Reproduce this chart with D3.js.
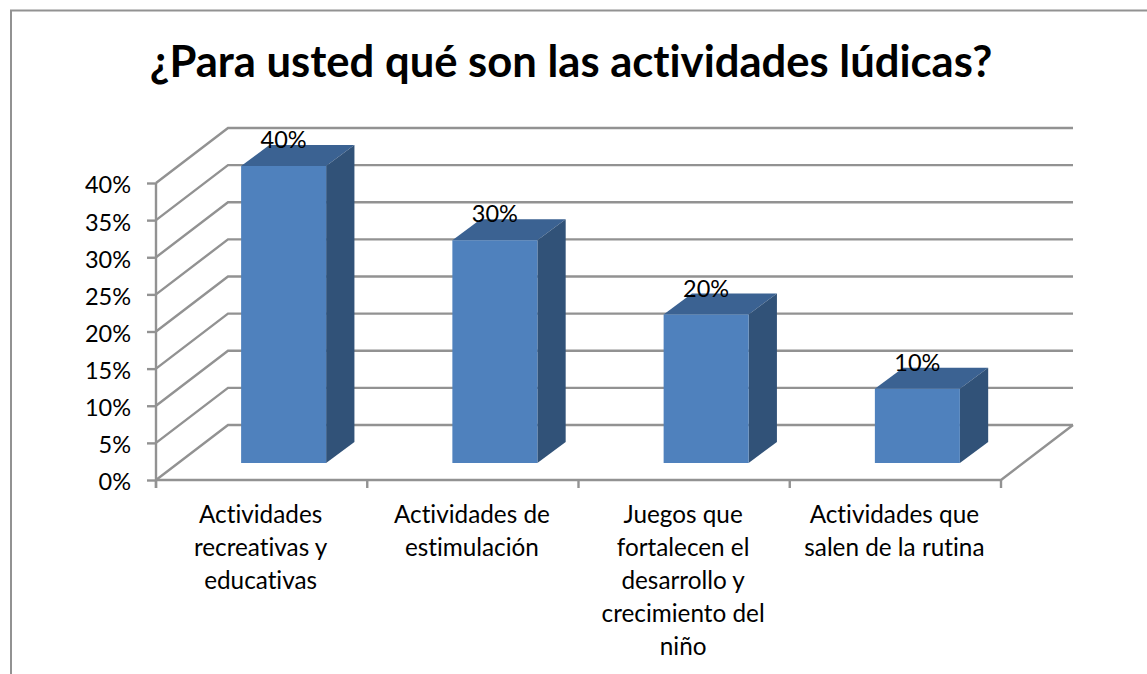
<!DOCTYPE html>
<html><head><meta charset="utf-8">
<style>
html,body{margin:0;padding:0;background:#fff}
svg{display:block}
text{font-family:Lato,"Open Sans",sans-serif;fill:#000;font-variant-ligatures:none}
</style>
<script src="https://cdnjs.cloudflare.com/ajax/libs/d3/7.8.5/d3.min.js"></script>
</head><body>
<svg id="c" width="1147" height="674"></svg>
<script>
const chartTitle = "¿Para usted qué son las actividades lúdicas?";
const categories = ["Actividades recreativas y educativas","Actividades de estimulación","Juegos que fortalecen el desarrollo y crecimiento del niño","Actividades que salen de la rutina"];
const categoryLines = [
  ["Actividades","recreativas y","educativas"],
  ["Actividades de","estimulación"],
  ["Juegos que","fortalecen el","desarrollo y","crecimiento del","niño"],
  ["Actividades que","salen de la rutina"]
];
const values = [40,30,20,10];
const yTicks = [0,5,10,15,20,25,30,35,40];

const svg = d3.select("#c");
const gridColor = "#929292";
const gridWidth = 2.4;
const depthX = 72, depthY = 55;          // floor depth
const barDepthX = 28.3, barDepthY = 21;  // bar depth
const barShiftX = 22, barShiftY = 17;    // bar placement on the floor

const y = d3.scaleLinear().domain([0,40]).range([480,183]);
const x = d3.scaleBand().domain(categories).range([156,1001]).paddingInner(0.5976).paddingOuter(0.2988);
const xStep = x.step();
const x0 = 156, x1 = 1001;

// frame
svg.append("path").attr("d","M11,674V10.5H1147").attr("fill","none").attr("stroke",gridColor).attr("stroke-width",2);

// title
svg.append("text").attr("x",571).attr("y",77).attr("text-anchor","middle")
  .attr("font-size",43.6).attr("font-weight",700).text(chartTitle);

// gridlines
const grid = svg.append("g").attr("fill","none").attr("stroke",gridColor).attr("stroke-width",gridWidth);
grid.selectAll("path").data(yTicks).join("path")
  .attr("d",d=>`M${x0},${y(d)}L${x0+depthX},${y(d)-depthY}H${x1+depthX}`);
grid.append("path").attr("d",`M${x0},${y(0)}H${x1}L${x1+depthX},${y(0)-depthY}`);

// y axis
const yAxis = svg.append("g").attr("transform",`translate(${x0},0)`)
  .call(d3.axisLeft(y).tickValues(yTicks).tickFormat(d=>d+"%").tickSize(9).tickPadding(16));
yAxis.select(".domain").attr("stroke",gridColor).attr("stroke-width",gridWidth).attr("d",`M0,${y(40)}V${y(0)+8}`);
yAxis.selectAll(".tick line").attr("stroke",gridColor).attr("stroke-width",gridWidth);
yAxis.selectAll(".tick text").attr("font-size",23.5).attr("dy","0.42em").attr("font-family",'Lato,"Open Sans",sans-serif').attr("fill","#000");

// x ticks
const edges = d3.range(categories.length+1).map(i=>x0+i*xStep);
svg.append("g").attr("stroke",gridColor).attr("stroke-width",gridWidth)
  .selectAll("line").data(edges).join("line")
  .attr("x1",d=>d).attr("x2",d=>d).attr("y1",y(0)).attr("y2",y(0)+8);

// bars
const bars = svg.append("g").selectAll("g").data(values).join("g");
const bx = (i)=>x(categories[i])+barShiftX;
const bw = x.bandwidth();
const by0 = y(0)-barShiftY;
bars.append("path").attr("fill","#3b6292")
  .attr("d",(d,i)=>{const t=y(d)-barShiftY,l=bx(i);return `M${l},${t}l${barDepthX},${-barDepthY}h${bw}l${-barDepthX},${barDepthY}Z`;});
bars.append("path").attr("fill","#315278")
  .attr("d",(d,i)=>{const t=y(d)-barShiftY,r=bx(i)+bw;return `M${r},${t}l${barDepthX},${-barDepthY}V${by0-barDepthY}L${r},${by0}Z`;});
bars.append("rect").attr("fill","#4f81bd")
  .attr("x",(d,i)=>bx(i)).attr("y",d=>y(d)-barShiftY).attr("width",bw).attr("height",d=>y(0)-y(d));

// data labels
svg.append("g").selectAll("text").data(values).join("text")
  .attr("x",(d,i)=>bx(i)+bw/2).attr("y",d=>y(d)-35)
  .attr("text-anchor","middle").attr("font-size",23.5).text(d=>d+"%");

// category labels
const labels = svg.append("g").selectAll("text").data(categoryLines).join("text")
  .attr("text-anchor","middle").attr("font-size",24.3);
labels.selectAll("tspan").data((d,i)=>d.map((s,k)=>({s,k,i}))).join("tspan")
  .attr("x",d=>x0+(d.i+0.5)*xStep-1).attr("y",d=>523+d.k*33).text(d=>d.s);
</script>
</body></html>
